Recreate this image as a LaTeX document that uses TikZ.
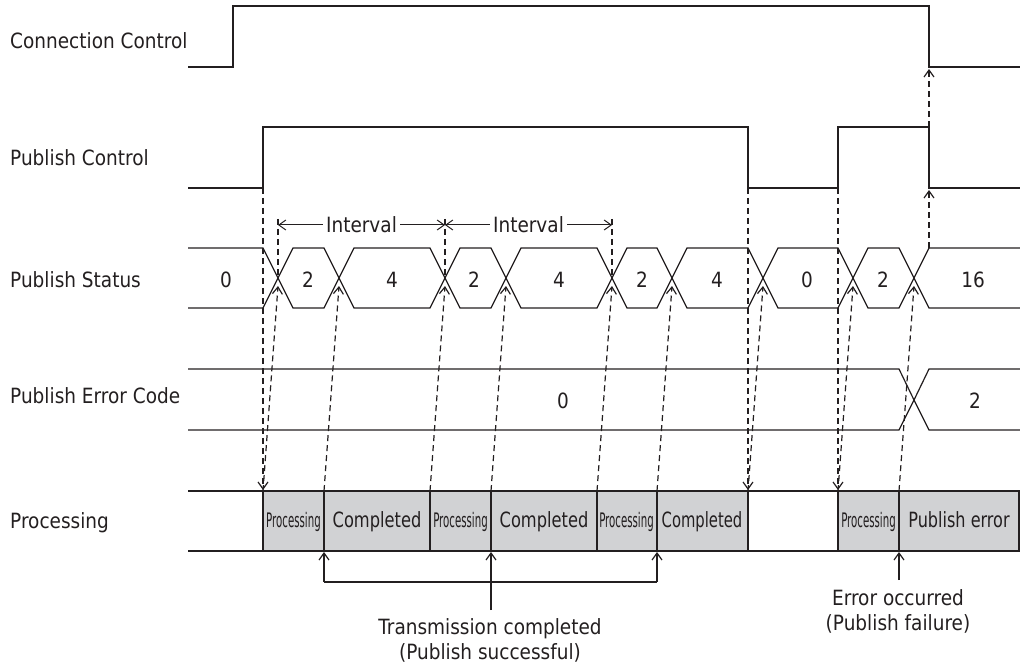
\documentclass[tikz,border=0pt]{standalone}
\usepackage{fontspec}
\setmainfont{DejaVu Sans}[FakeStretch=0.88]
\usepackage{graphicx}
\usetikzlibrary{arrows.meta}
\definecolor{ink}{HTML}{231F20}
\definecolor{boxgray}{HTML}{D1D2D4}
\tikzset{
  sig/.style={line width=2pt, draw=ink, line join=miter},
  bus/.style={line width=1.2pt, draw=ink},
  dsh/.style={line width=1.2pt, draw=ink, dash pattern=on 6pt off 4pt},
  tip/.style={-{Straight Barb[length=7pt,width=10pt]}},
  lbl/.style={font=\fontsize{21}{25}\selectfont, text=ink, inner sep=0pt},
  pbox/.style={draw=ink, line width=1.3pt, fill=boxgray},
  small/.style={font=\fontsize{20}{24}\selectfont, text=ink, inner sep=0pt},
}
\begin{document}
\begin{tikzpicture}[x=1pt,y=-1pt]
\useasboundingbox (0,0) rectangle (1020,663);

% row labels
\node[lbl,anchor=base west] (lcc) at (10,49) {Connection Control};
\node[lbl,anchor=base west] (lpc) at (10,166) {Publish Control};
\node[lbl,anchor=base west] (lps) at (10,287) {Publish Status};
\node[lbl,anchor=base west] (lpe) at (10,403) {Publish Error Code};
\node[lbl,anchor=base west] (lpr) at (10,528) {Processing};

% connection control
\draw[sig] (188,67) -- (233,67) -- (233,6) -- (929,6) -- (929,67) -- (1020,67);
% publish control
\draw[sig] (188,188) -- (263,188) -- (263,127) -- (748,127) -- (748,188) -- (838,188) -- (838,127) -- (929,127) -- (929,188) -- (1020,188);

% publish status
\draw[bus] (188,248) -- (263,248) -- (278,278) -- (263,308) -- (188,308);
\foreach \a/\b in {278/339,339/445,445/506,506/612,612/672,672/763,763/853,853/914}
  \draw[bus] (\a,278) -- (\a+15,248) -- (\b-15,248) -- (\b,278) -- (\b-15,308) -- (\a+15,308) -- cycle;
\draw[bus] (1020,248) -- (929,248) -- (914,278) -- (929,308) -- (1020,308);
\foreach \x/\t [count=\i] in {226/0,308/2,392/4,474/2,559/4,642/2,717/4,807/0,883/2,973/16}
  \node[lbl,anchor=base] (s\i) at (\x,287) {\t};

% publish error code
\draw[bus] (188,369) -- (899,369) -- (914,400) -- (899,430) -- (188,430);
\draw[bus] (1020,369) -- (929,369) -- (914,400) -- (929,430) -- (1020,430);
\node[lbl,anchor=base] (e1) at (563,408) {0};
\node[lbl,anchor=base] (e2) at (975,408) {2};

% processing row
\draw[bus] (188,491) -- (263,491);
\draw[bus] (188,551) -- (263,551);
\draw[bus] (748,491) -- (838,491);
\draw[bus] (748,551) -- (838,551);
\foreach \a/\b in {263/324,324/430,430/491,491/597,597/657,657/748,838/899,899/1019}
  \draw[pbox] (\a,491) rectangle (\b,551);
\foreach \x [count=\i] in {293.5,460.5,626.5,868.5}
  \node[small,anchor=base] (p\i) at (\x,527) {\scalebox{0.58}[1]{Processing}};
\node[lbl,anchor=base] (c1) at (377,527) {\scalebox{0.88}[1]{Completed}};
\node[lbl,anchor=base] (c2) at (544,527) {\scalebox{0.88}[1]{Completed}};
\node[lbl,anchor=base] (c3) at (702,527) {\scalebox{0.80}[1]{Completed}};
\node[lbl,anchor=base] (pe) at (959,527) {\scalebox{0.87}[1]{Publish error}};

% dashed verticals from publish control to processing
\foreach \x in {263,748,838}
  \draw[dsh,tip] (\x,188) -- (\x,490);
% dashed diagonals from processing boundaries to status transitions
\foreach \b in {263,324,430,491,597,657,748,838,899}
  \draw[dsh,tip] (\b,491) -- (\b+15,286);
% interval markers
\foreach \x in {278,445,612}
  \draw[dsh] (\x,219) -- (\x,278);
\draw[bus,line width=1pt,{Straight Barb[length=7pt,width=10pt]}-{Straight Barb[length=7pt,width=10pt]}]
  (278,225) -- node[lbl,fill=white,inner xsep=3pt,inner ysep=2pt] (i1) {Interval} (445,225);
\draw[bus,line width=1pt,{Straight Barb[length=7pt,width=10pt]}-{Straight Barb[length=7pt,width=10pt]}]
  (445,225) -- node[lbl,fill=white,inner xsep=3pt,inner ysep=2pt] (i2) {Interval} (612,225);
% to connection control
\draw[dsh,tip] (929,248) -- (929,190);
\draw[dsh,tip] (929,127) -- (929,69);

% transmission completed bracket
\coordinate (bl) at (324,582);
\coordinate (br) at (657,582);
\coordinate (bm) at (491,610);
\draw[bus] (bl) -- (br);
\draw[bus,tip] (bl) -- (324,552);
\draw[bus,tip] (br) -- (657,552);
\draw[bus,tip] (bm) -- (491,552);
\node[lbl,anchor=base] (tc1) at (490,634) {Transmission completed};
\node[lbl,anchor=base] (tc2) at (490,659) {(Publish successful)};

% error occurred
\coordinate (eo) at (899,580);
\draw[bus,tip] (eo) -- (899,552);
\node[lbl,anchor=base] (er1) at (898,605) {Error occurred};
\node[lbl,anchor=base] (er2) at (898,630) {(Publish failure)};
\end{tikzpicture}
\end{document}
